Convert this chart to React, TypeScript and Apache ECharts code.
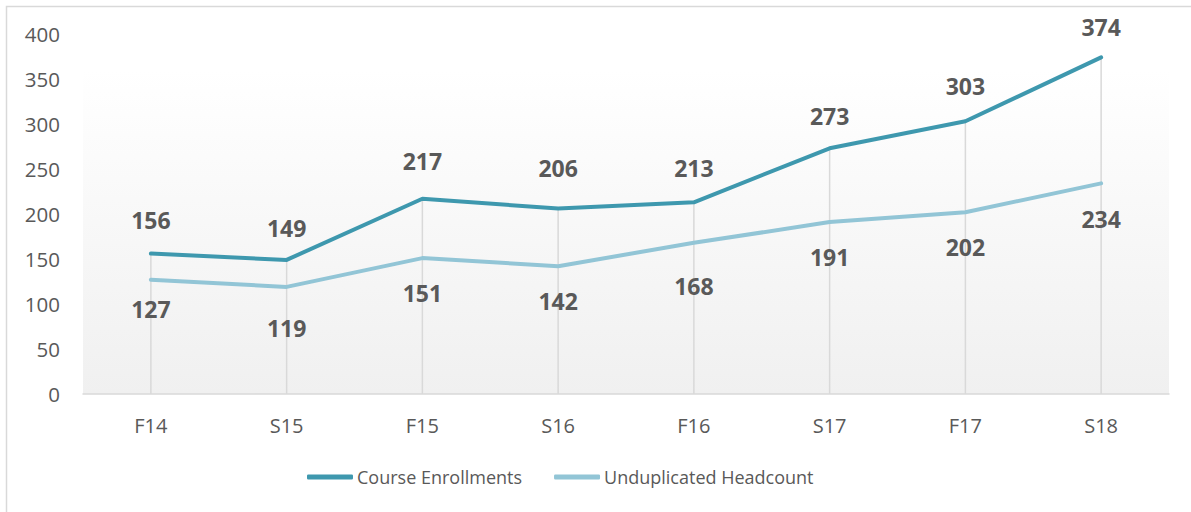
import React, { useEffect, useRef } from "react";
import * as echarts from "echarts";

const categories = ["F14", "S15", "F15", "S16", "F16", "S17", "F17", "S18"];
const courseEnrollments = [156, 149, 217, 206, 213, 273, 303, 374];
const headcount = [127, 119, 151, 142, 168, 191, 202, 234];
const yTicks = { min: 0, max: 400, interval: 50 };

// label placement tweaks (px) – styling only, mirrors manual label nudges in the original
const courseLabelNudge = [0, -2, 4, 7, 0, -2, 1, -4];
const headLabelNudge = [-6, 6, 0, 0, 8, 0, 0, 1];

const FONT = "'Open Sans', sans-serif";
const TEXT = "#595959";
const C1 = "#3e98ae";
const C2 = "#92c5d6";

export default function App() {
  const ref = useRef<HTMLDivElement>(null);
  useEffect(() => {
    document.body.style.margin = "0";
    const chart = echarts.init(ref.current!, null, { renderer: "svg" });
    const labelBase = {
      show: true,
      color: TEXT,
      fontSize: 23,
      fontWeight: "bold",
      fontFamily: FONT,
    };
    const courseBase = 22;
    const headBase = 23;
    chart.setOption({
      animation: false,
      backgroundColor: "#ffffff",
      textStyle: { fontFamily: FONT },
      graphic: [
        {
          type: "rect",
          shape: { x: 6.5, y: 6.5, width: 1200, height: 520 },
          style: { fill: "none", stroke: "#d9d9d9", lineWidth: 1.5 },
          silent: true,
          z: -10,
        },
      ],
      grid: {
        left: 83,
        right: 22,
        top: 34,
        bottom: 118,
        show: true,
        borderWidth: 0,
        backgroundColor: {
          type: "linear",
          x: 0,
          y: 0,
          x2: 0,
          y2: 1,
          colorStops: [
            { offset: 0, color: "#ffffff" },
            { offset: 0.1, color: "#ffffff" },
            { offset: 1, color: "#f0f0f0" },
          ],
        },
      },
      legend: {
        data: ["Course Enrollments", "Unduplicated Headcount"],
        top: 463,
        left: 302,
        icon: "roundRect",
        itemWidth: 46,
        itemHeight: 5,
        itemGap: 32,
        textStyle: { color: TEXT, fontSize: 18, fontFamily: FONT, padding: [0, 0, 0, -1] },
      },
      xAxis: {
        type: "category",
        data: categories,
        boundaryGap: true,
        axisLine: { show: true, lineStyle: { color: "#d9d9d9", width: 1.5 } },
        axisTick: { show: false },
        splitLine: { show: false },
        axisLabel: { color: TEXT, fontSize: 20, margin: 21, fontFamily: FONT },
      },
      yAxis: {
        type: "value",
        min: yTicks.min,
        max: yTicks.max,
        interval: yTicks.interval,
        axisLine: { show: false },
        axisTick: { show: false },
        splitLine: { show: false },
        axisLabel: { color: TEXT, fontSize: 20.5, margin: 23, fontFamily: FONT },
      },
      series: [
        {
          name: "dropLines",
          type: "bar",
          data: courseEnrollments,
          barWidth: 1.5,
          itemStyle: { color: "#d9d9d9" },
          silent: true,
          z: 1,
        },
        {
          name: "Course Enrollments",
          type: "line",
          data: courseEnrollments.map((v, i) => ({
            value: v,
            label: { distance: courseBase + courseLabelNudge[i] },
          })),
          symbol: "circle",
          symbolSize: 1,
          showSymbol: true,
          lineStyle: { color: C1, width: 4, cap: "round", join: "round" },
          itemStyle: { color: C1 },
          z: 3,
          label: { ...labelBase, position: "top", distance: courseBase },
        },
        {
          name: "Unduplicated Headcount",
          type: "line",
          data: headcount.map((v, i) => ({
            value: v,
            label: { distance: headBase + headLabelNudge[i] },
          })),
          symbol: "circle",
          symbolSize: 1,
          showSymbol: true,
          lineStyle: { color: C2, width: 4, cap: "round", join: "round" },
          itemStyle: { color: C2 },
          z: 2,
          label: { ...labelBase, position: "bottom", distance: headBase },
        },
      ],
    });
    return () => chart.dispose();
  }, []);
  return <div ref={ref} style={{ width: 1191, height: 512 }} />;
}
